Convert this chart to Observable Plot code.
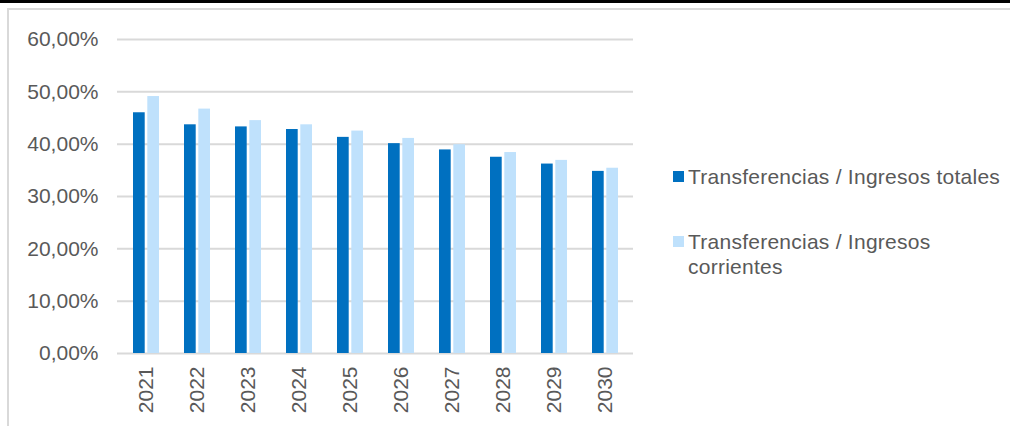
<!DOCTYPE html>
<html>
<head>
<meta charset="utf-8">
<script src="https://cdn.jsdelivr.net/npm/d3@7"></script>
<script src="https://cdn.jsdelivr.net/npm/@observablehq/plot@0.6"></script>
<style>
  html, body { margin: 0; padding: 0; background: #fff; }
  #wrap { position: relative; width: 1010px; height: 426px; overflow: hidden; font-family: "Liberation Sans", Arial, sans-serif; color: #595959; }
  #chart { position: absolute; left: 0; top: 0; }
  .topbar { position: absolute; left: 0; top: 0; width: 1010px; height: 3px; background: #000; z-index: 5; }
  .hline { position: absolute; left: 7px; top: 8px; width: 1003px; height: 2px; background: #d9d9d9; z-index: 5; }
  .vline { position: absolute; left: 7px; top: 8px; width: 2px; height: 418px; background: #d9d9d9; z-index: 5; }
  #legend { position: absolute; left: 673px; top: 164px; font-size: 21px; line-height: 25px; letter-spacing: 0.25px; z-index: 6; }
  .item { display: flex; align-items: flex-start; margin-bottom: 40px; }
  .sw { width: 11px; height: 11px; margin-top: 7px; margin-right: 4px; flex: none; }
  .lab { width: 322px; }
</style>
</head>
<body>
<div id="wrap">
  <div id="chart"></div>
  <div class="topbar"></div>
  <div class="hline"></div>
  <div class="vline"></div>
  <div id="legend"></div>
</div>
<script>
const years = ["2021", "2022", "2023", "2024", "2025", "2026", "2027", "2028", "2029", "2030"];
const seriesNames = ["Transferencias / Ingresos totales", "Transferencias / Ingresos corrientes"];
const totales = [46.0, 43.7, 43.3, 42.8, 41.3, 40.1, 38.9, 37.5, 36.2, 34.8];
const corrientes = [49.1, 46.7, 44.5, 43.7, 42.5, 41.1, 39.9, 38.4, 36.9, 35.4];
const colors = ["#0070c0", "#bfe1fc"];
const yTicks = [0, 10, 20, 30, 40, 50, 60];

const dataTot = years.map((yr, i) => ({year: yr, series: seriesNames[0], value: totales[i]}));
const dataCor = years.map((yr, i) => ({year: yr, series: seriesNames[1], value: corrientes[i]}));

const fmt = d => d.toFixed(2).replace(".", ",") + "%";

const chart = Plot.plot({
  width: 660,
  height: 426,
  marginLeft: 117,
  marginRight: 27,
  marginTop: 39,
  marginBottom: 73,
  style: {fontFamily: "'Liberation Sans', Arial, sans-serif", fontSize: "21px", color: "#595959", background: "transparent", overflow: "visible"},
  y: {domain: [0, 60], ticks: yTicks, tickFormat: fmt, tickSize: 0, tickPadding: 19, label: null},
  x: {domain: years, paddingInner: 0.5, paddingOuter: 0.25, label: null, tickSize: 0, tickPadding: 13, tickRotate: -90},
  color: {domain: seriesNames, range: colors},
  marks: [
    Plot.ruleY(yTicks, {stroke: "#d9d9d9", strokeWidth: 2}),
    Plot.barY(dataTot, {x: "year", y: "value", fill: "series", insetRight: 14.3}),
    Plot.barY(dataCor, {x: "year", y: "value", fill: "series", insetLeft: 14.3})
  ]
});
document.getElementById("chart").appendChild(chart);

const legend = document.getElementById("legend");
seriesNames.forEach((name, i) => {
  const item = document.createElement("div");
  item.className = "item";
  const sw = document.createElement("div");
  sw.className = "sw";
  sw.style.background = colors[i];
  const lab = document.createElement("div");
  lab.className = "lab";
  lab.textContent = name;
  item.appendChild(sw);
  item.appendChild(lab);
  legend.appendChild(item);
});
</script>
</body>
</html>
